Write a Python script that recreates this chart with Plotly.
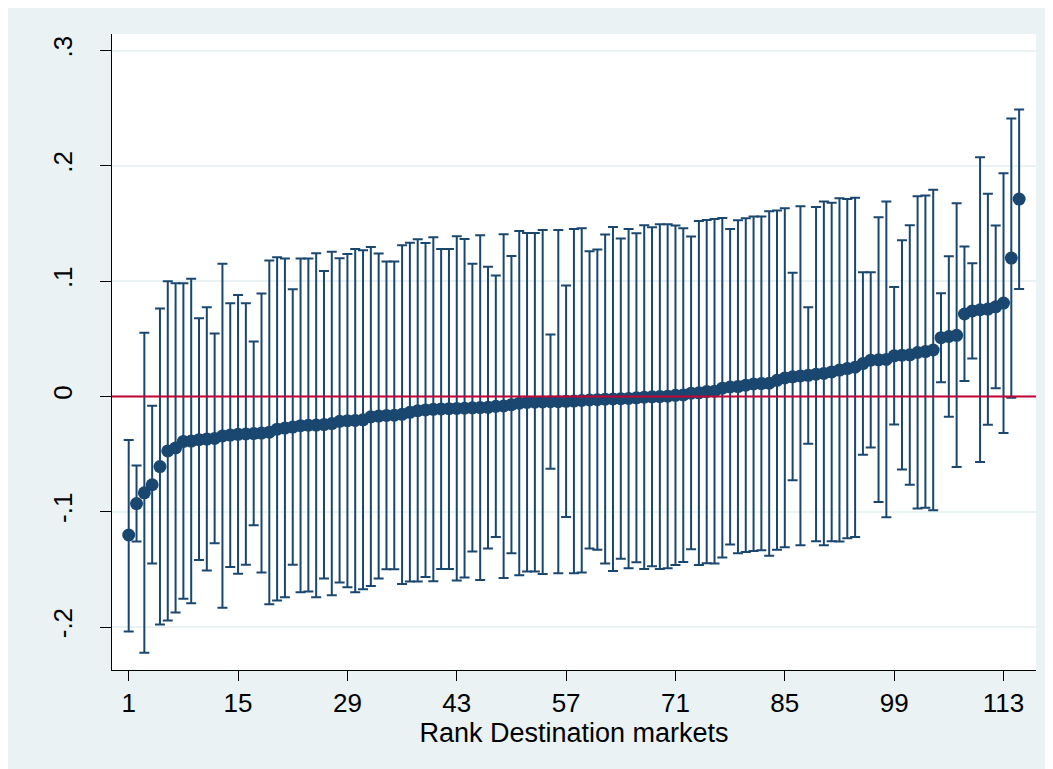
import plotly.graph_objects as go

rank = list(range(1, 116))

estimate = [
    -0.1202, -0.0929, -0.0836, -0.0766, -0.0608, -0.0473, -0.0447, -0.0390, -0.0387, -0.0375,
    -0.0370, -0.0365, -0.0343, -0.0335, -0.0329, -0.0326, -0.0322, -0.0318, -0.0310, -0.0284,
    -0.0274, -0.0266, -0.0254, -0.0250, -0.0248, -0.0244, -0.0235, -0.0216, -0.0210, -0.0208,
    -0.0203, -0.0177, -0.0170, -0.0165, -0.0163, -0.0155, -0.0138, -0.0124, -0.0117, -0.0112,
    -0.0108, -0.0106, -0.0104, -0.0102, -0.0099, -0.0097, -0.0094, -0.0086, -0.0083, -0.0071,
    -0.0058, -0.0052, -0.0050, -0.0048, -0.0046, -0.0045, -0.0042, -0.0040, -0.0035, -0.0030,
    -0.0028, -0.0024, -0.0022, -0.0019, -0.0017, -0.0012, -0.0006, -0.0003, -0.0001, 0.0002,
    0.0010, 0.0013, 0.0028, 0.0031, 0.0042, 0.0046, 0.0072, 0.0082, 0.0086, 0.0098,
    0.0108, 0.0112, 0.0115, 0.0140, 0.0160, 0.0170, 0.0178, 0.0183, 0.0193, 0.0200,
    0.0213, 0.0229, 0.0242, 0.0253, 0.0285, 0.0315, 0.0318, 0.0321, 0.0352, 0.0358,
    0.0361, 0.0381, 0.0389, 0.0403, 0.0510, 0.0520, 0.0530, 0.0715, 0.0742, 0.0752,
    0.0758, 0.0777, 0.0810, 0.1200, 0.1712,
]

upper = [
    -0.0378, -0.0598, 0.0552, -0.0081, 0.0763, 0.0999, 0.0982, 0.0982, 0.1020, 0.0679,
    0.0774, 0.0546, 0.1150, 0.0809, 0.0881, 0.0809, 0.0477, 0.0893, 0.1180, 0.1207,
    0.1196, 0.0930, 0.1196, 0.1196, 0.1242, 0.1089, 0.1256, 0.1199, 0.1236, 0.1280,
    0.1268, 0.1297, 0.1240, 0.1170, 0.1170, 0.1311, 0.1334, 0.1363, 0.1332, 0.1380,
    0.1280, 0.1280, 0.1390, 0.1366, 0.1150, 0.1398, 0.1124, 0.1049, 0.1407, 0.1219,
    0.1436, 0.1418, 0.1418, 0.1444, 0.0537, 0.1444, 0.0962, 0.1453, 0.1459, 0.1259,
    0.1274, 0.1404, 0.1470, 0.1369, 0.1453, 0.1415, 0.1485, 0.1467, 0.1493, 0.1493,
    0.1482, 0.1459, 0.1387, 0.1522, 0.1531, 0.1540, 0.1548, 0.1453, 0.1528, 0.1545,
    0.1560, 0.1560, 0.1606, 0.1612, 0.1632, 0.1072, 0.1649, 0.0774, 0.1644, 0.1690,
    0.1681, 0.1719, 0.1713, 0.1724, 0.1077, 0.1077, 0.1554, 0.1690, 0.0950, 0.1355,
    0.1485, 0.1736, 0.1742, 0.1794, 0.0895, 0.1216, 0.1675, 0.1300, 0.1155, 0.2074,
    0.1759, 0.1482, 0.1935, 0.2412, 0.2490,
]

lower = [
    -0.2039, -0.1259, -0.2224, -0.1450, -0.1979, -0.1944, -0.1875, -0.1756, -0.1794, -0.1418,
    -0.1510, -0.1274, -0.1834, -0.1479, -0.1537, -0.1459, -0.1118, -0.1528, -0.1803, -0.1771,
    -0.1742, -0.1459, -0.1698, -0.1693, -0.1742, -0.1580, -0.1724, -0.1615, -0.1655, -0.1698,
    -0.1672, -0.1644, -0.1580, -0.1499, -0.1499, -0.1626, -0.1606, -0.1606, -0.1566, -0.1603,
    -0.1496, -0.1496, -0.1597, -0.1571, -0.1346, -0.1592, -0.1320, -0.1219, -0.1574, -0.1360,
    -0.1551, -0.1519, -0.1519, -0.1540, -0.0627, -0.1534, -0.1046, -0.1534, -0.1528, -0.1320,
    -0.1329, -0.1450, -0.1514, -0.1407, -0.1490, -0.1438, -0.1496, -0.1473, -0.1496, -0.1490,
    -0.1462, -0.1436, -0.1326, -0.1462, -0.1447, -0.1450, -0.1398, -0.1285, -0.1360, -0.1349,
    -0.1340, -0.1334, -0.1381, -0.1329, -0.1308, -0.0728, -0.1291, -0.0410, -0.1256, -0.1291,
    -0.1256, -0.1259, -0.1230, -0.1219, -0.0505, -0.0442, -0.0916, -0.1049, -0.0243, -0.0633,
    -0.0765, -0.0971, -0.0965, -0.0988, 0.0124, -0.0176, -0.0612, 0.0133, 0.0329, -0.0569,
    -0.0246, 0.0072, -0.0318, -0.0012, 0.0933,
]

x_tickvals = [1, 15, 29, 43, 57, 71, 85, 99, 113]
y_tickvals = [-0.2, -0.1, 0, 0.1, 0.2, 0.3]
y_ticktext = ["-.2", "-.1", "0", ".1", ".2", ".3"]
x_title = "Rank Destination markets"

NAVY = "#1A476F"
BG = "#EAF2F3"
FONT = "Liberation Sans, Arial, sans-serif"

err_plus = [u - e for u, e in zip(upper, estimate)]
err_minus = [e - l for e, l in zip(estimate, lower)]

fig = go.Figure()
fig.add_trace(go.Scatter(
    x=rank, y=estimate, mode="markers",
    marker=dict(color=NAVY, size=13, line=dict(width=0)),
    error_y=dict(type="data", symmetric=False, array=err_plus, arrayminus=err_minus,
                 color=NAVY, thickness=2, width=5),
    showlegend=False, hoverinfo="skip",
))

fig.add_shape(type="line", xref="paper", yref="y", x0=0, x1=1, y0=0, y1=0,
              line=dict(color="#C10534", width=2), layer="above")

OFF = 8  # page body margin
L, R, T, B = 112, 1036, 34, 670  # plot area in screenshot pixels
FW, FH = 1053, 769

fig.update_layout(
    width=FW, height=FH,
    margin=dict(l=L - OFF, r=FW + OFF - R, t=T - OFF, b=FH + OFF - B, pad=0),
    paper_bgcolor=BG, plot_bgcolor="white",
    font=dict(family=FONT, size=26, color="black"),
    xaxis=dict(
        range=[-1.14, 117.16], tickmode="array", tickvals=x_tickvals,
        ticks="outside", ticklen=10, tickwidth=1, tickcolor="black",
        showline=True, linecolor="black", linewidth=1, mirror=False,
        showgrid=False, zeroline=False,
        tickfont=dict(size=26),
        title=dict(text=x_title, font=dict(size=27), standoff=0),
    ),
    yaxis=dict(
        range=[-0.2373, 0.3144], tickmode="array", tickvals=y_tickvals, ticktext=y_ticktext,
        ticks="outside", ticklen=11, tickwidth=1, tickcolor="black", tickangle=-90,
        showline=True, linecolor="black", linewidth=1,
        showgrid=True, gridcolor=BG, gridwidth=2, zeroline=False,
        tickfont=dict(size=26), ticklabelstandoff=18,
    ),
)

fig.write_html("out.html")
